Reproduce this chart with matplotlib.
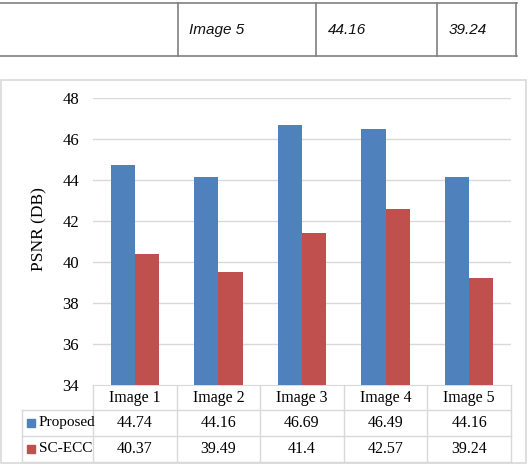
import numpy as np
import matplotlib
matplotlib.use('Agg')
import matplotlib.pyplot as plt
from matplotlib.lines import Line2D
from matplotlib.patches import Rectangle
import matplotlib.transforms as mtransforms

# data
categories = ['Image 1', 'Image 2', 'Image 3', 'Image 4', 'Image 5']
proposed = [44.74, 44.16, 46.69, 46.49, 44.16]
sc_ecc = [40.37, 39.49, 41.4, 42.57, 39.24]
series_names = ['Proposed', 'SC-ECC']
yticks = [34, 36, 38, 40, 42, 44, 46, 48]
top_row = ['Image 5', '44.16', '39.24']

blue = '#4F81BD'
red = '#C0504D'
grid_c = '#D9D9D9'
serif = 'Liberation Serif'

W, H = 528, 466
fig = plt.figure(figsize=(W / 100, H / 100), dpi=100)

# overlay in pixel coords for page decorations
bg = fig.add_axes([0, 0, 1, 1], zorder=0)
bg.set_xlim(0, W)
bg.set_ylim(H, 0)
bg.axis('off')
bg.patch.set_alpha(0)

# piece of the table above the chart
for yy in (3, 56):
    bg.add_line(Line2D([0, 517], [yy, yy], color='#808080', lw=1.2))
for xx in (178, 316, 437, 516):
    bg.add_line(Line2D([xx, xx], [3, 56], color='#808080', lw=1.2))
for xx, txt in zip((189, 328, 449), top_row):
    bg.text(xx, 30, txt, fontsize=11, style='italic', family='Liberation Sans',
            va='center', ha='left', color='#111111')

# chart border
bg.add_patch(Rectangle((1, 80), 525, 383, fill=False, ec=grid_c, lw=1.2))

# main axes
ax = fig.add_axes([93 / W, 1 - 385 / H, 418 / W, 287 / H], zorder=1)
ax.patch.set_alpha(0)
x = np.arange(len(categories))
w = 0.29
ax.bar(x - w / 2, proposed, w, color=blue, zorder=3)
ax.bar(x + w / 2, sc_ecc, w, color=red, zorder=3)
ax.set_ylim(34, 48)
ax.set_xlim(-0.5, 4.5)
ax.set_yticks(yticks)
ax.set_yticklabels([str(t) for t in yticks], fontsize=12, family=serif)
ax.tick_params(axis='y', length=0, pad=10)
ax.set_xticks([])
for t in yticks[1:]:
    ax.axhline(t, color=grid_c, lw=1, zorder=1)
for s in ['top', 'right', 'left']:
    ax.spines[s].set_visible(False)
ax.spines['bottom'].set_color(grid_c)
ax.set_ylabel('PSNR (DB)', fontsize=12.5, family=serif)
ax.yaxis.set_label_coords(-0.11, 0.544)

# data table under the axis
tr = mtransforms.blended_transform_factory(ax.transData, ax.transAxes)
row_y = [-0.0871, -0.1777, -0.268]
left_x = -1.349
for yy in row_y:
    ax.add_line(Line2D([left_x, 4.5], [yy, yy], color=grid_c, lw=1,
                       transform=tr, clip_on=False))
ax.add_line(Line2D([left_x, left_x], [row_y[0], row_y[2]], color=grid_c, lw=1,
                   transform=tr, clip_on=False))
for b in np.arange(-0.5, 5, 1):
    ax.add_line(Line2D([b, b], [0, row_y[2]], color=grid_c, lw=1,
                       transform=tr, clip_on=False))
for i, c in enumerate(categories):
    ax.text(i, -0.045, c, transform=tr, ha='center', va='center',
            fontsize=11.5, family=serif)
for vals, name, col, yy in zip([proposed, sc_ecc], series_names, [blue, red],
                               [-0.132, -0.2225]):
    for i, v in enumerate(vals):
        ax.text(i, yy, str(v), transform=tr, ha='center', va='center',
                fontsize=11.5, family=serif)
    ax.add_patch(Rectangle((-1.289, yy - 0.014), 0.096, 0.028,
                           color=col, transform=tr, clip_on=False))
    ax.text(-1.15, yy, name, transform=tr, ha='left', va='center',
            fontsize=11, family=serif)

fig.savefig('out.png', dpi=100)
